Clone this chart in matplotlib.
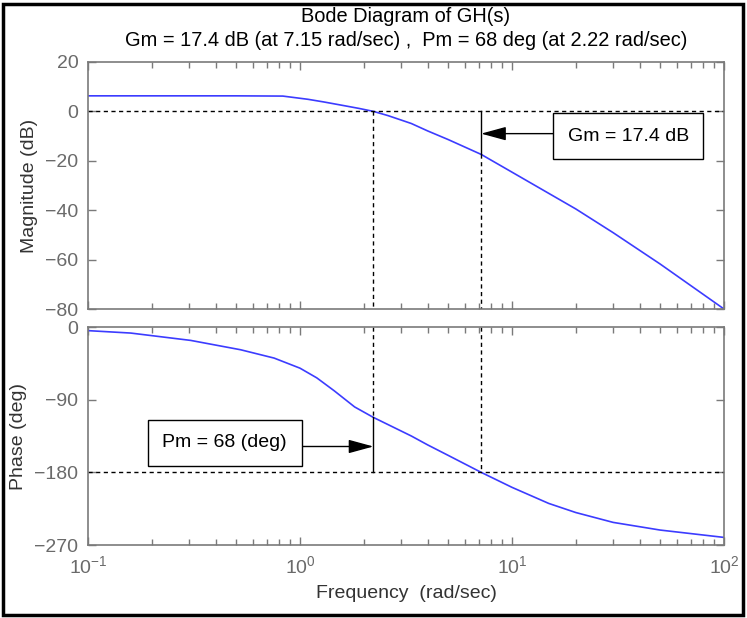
import numpy as np
import matplotlib
matplotlib.use('Agg')
import matplotlib.pyplot as plt
from matplotlib.patches import Rectangle

plt.rcParams['font.family'] = ['Liberation Sans', 'DejaVu Sans']
plt.rcParams['mathtext.default'] = 'regular'

# values
freq_mag = [0.1, 0.3, 0.5, 0.83, 1.09, 1.3, 1.62, 1.9, 2.22, 2.6, 3.0, 3.35, 4.0, 5.0, 7.15,
            10, 20, 30, 50, 100]
mag_db = [6.3, 6.3, 6.3, 6.2, 4.9, 3.8, 2.3, 1.2, 0.0, -1.7, -3.5, -4.9, -7.9, -11.4, -17.4,
          -24.6, -39.5, -49.1, -61.8, -80.0]

freq_ph = [0.1, 0.159, 0.305, 0.525, 0.755, 1.0, 1.2, 1.45, 1.81, 2.22, 3.35, 4.0, 5.0,
           7.15, 10, 14.9, 20, 30, 50, 100]
phase_deg = [-4.5, -7.5, -16.6, -28.2, -38.5, -51, -63, -79, -99, -112, -135, -146, -159,
             -180, -198.6, -218.5, -229.8, -242, -251.5, -260.6]

gm_db = 17.4
gm_freq = 7.15
pm_deg = 68
pm_freq = 2.22

mag_ticks = [20, 0, -20, -40, -60, -80]
ph_ticks = [0, -90, -180, -270]

W, H = 747, 618
fig = plt.figure(figsize=(W / 100, H / 100), dpi=100)

def px_axes(l, t, r, b):
    return fig.add_axes([l / W, 1 - b / H, (r - l) / W, (b - t) / H])

ax1 = px_axes(88, 62, 724, 309)
ax2 = px_axes(88, 327, 724, 545)

gray = '#7a7a7a'
blue = '#3c3cff'
fs = 14
for ax in (ax1, ax2):
    ax.set_xscale('log')
    ax.set_xlim(0.1, 100)
    for s in ax.spines.values():
        s.set_color(gray)
        s.set_linewidth(1.2)
    ax.tick_params(which='both', direction='in', top=True, right=True,
                   colors=gray, labelsize=fs, labelcolor='#6a6a6a', pad=7)
    ax.tick_params(which='major', length=6, width=1)
    ax.tick_params(which='minor', length=4, width=1)

dash = dict(color='black', linewidth=1, dashes=(3, 2.5))
arrow = dict(arrowstyle='-|>,head_length=1.1,head_width=0.3', color='black', lw=1,
             shrinkA=0, shrinkB=0, mutation_scale=14)
box = dict(boxstyle='square,pad=0.75', fc='white', ec='black', lw=1)

# magnitude
ax1.plot(freq_mag, mag_db, color=blue, linewidth=1.2)
ax1.set_ylim(-80, 20)
ax1.set_yticks(mag_ticks)
ax1.tick_params(labelbottom=False)
ax1.axhline(0, **dash)
ax1.plot([pm_freq, pm_freq], [0, -80], **dash)
ax1.plot([gm_freq, gm_freq], [-gm_db, -80], **dash)
ax1.plot([gm_freq, gm_freq], [0, -gm_db], color='black', linewidth=1)
ax1.set_ylabel('Magnitude (dB)', fontsize=fs, color='#333333', labelpad=5)
ax1.annotate('', xy=(gm_freq, -9.0), xytext=(16, -9.0), arrowprops=arrow)
ax1.text(35.3, -10.1, 'Gm = 17.4 dB', fontsize=fs, ha='center', va='center',
         bbox=box, zorder=6)

# phase
ax2.plot(freq_ph, phase_deg, color=blue, linewidth=1.2)
ax2.set_ylim(-270, 0)
ax2.set_yticks(ph_ticks)
ax2.axhline(-180, **dash)
ax2.plot([gm_freq, gm_freq], [0, -180], **dash)
ax2.plot([pm_freq, pm_freq], [0, pm_deg - 180], **dash)
ax2.plot([pm_freq, pm_freq], [pm_deg - 180, -180], color='black', linewidth=1)
ax2.set_ylabel('Phase (deg)', fontsize=fs, color='#333333', labelpad=5)
ax2.set_xlabel('Frequency  (rad/sec)', fontsize=fs, color='#333333', labelpad=6)
ax2.annotate('', xy=(pm_freq, -148), xytext=(1.0, -148), arrowprops=arrow)
ax2.text(0.441, -143.5, 'Pm = 68 (deg)', fontsize=fs, ha='center', va='center',
         bbox=box, zorder=6)

fig.align_ylabels([ax1, ax2])

fig.text(406 / W, 1 - 16 / H, 'Bode Diagram of GH(s)', ha='center', va='center', fontsize=14.4)
fig.text(406 / W, 1 - 40 / H,
         'Gm = 17.4 dB (at 7.15 rad/sec) ,  Pm = 68 deg (at 2.22 rad/sec)',
         ha='center', va='center', fontsize=14.4)

fig.patches.append(Rectangle((3 / W, 3 / H), (W - 7) / W, (H - 7) / H,
                             transform=fig.transFigure, fill=False,
                             edgecolor='black', linewidth=2.5))

fig.savefig('out.png', dpi=100)
